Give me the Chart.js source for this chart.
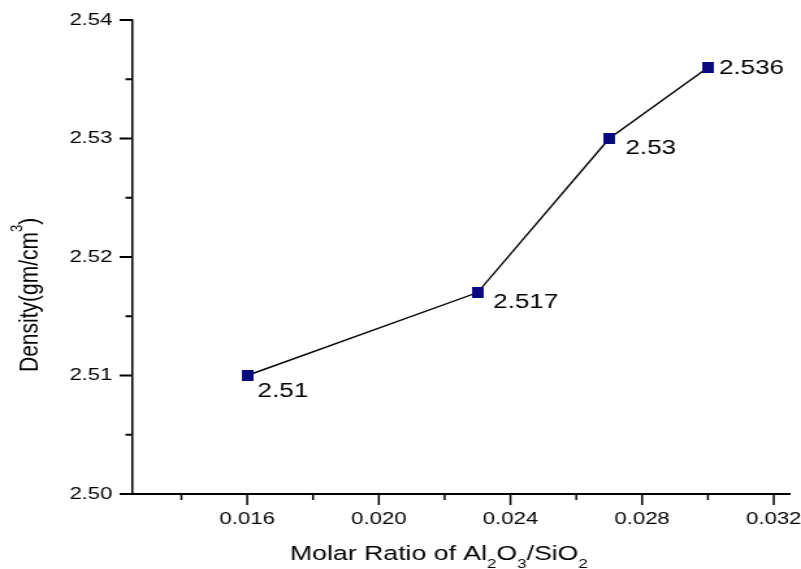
<!DOCTYPE html>
<html>
<head>
<meta charset="utf-8">
<title>Density vs Molar Ratio</title>
<script src="https://cdn.jsdelivr.net/npm/chart.js@4.4.1/dist/chart.umd.min.js"></script>
<style>
  html, body { margin: 0; padding: 0; background: #fff; }
  #densityChart { display: block; }
</style>
</head>
<body>
<!-- the figure is drawn narrow and widened by css, like the exported plot -->
<canvas id="densityChart" width="616" height="569" style="width:801px;height:569px"></canvas>
<script>
// Measured values
const molarRatio = [0.016, 0.023, 0.027, 0.030];
const density = [2.51, 2.517, 2.53, 2.536];

// Axis ticks
const xMajorTicks = [0.016, 0.020, 0.024, 0.028, 0.032];
const xMinorTicks = [0.014, 0.018, 0.022, 0.026, 0.030];
const yMajorTicks = [2.50, 2.51, 2.52, 2.53, 2.54];
const yMinorTicks = [2.505, 2.515, 2.525, 2.535];

const FONT = '"Liberation Sans", Arial, sans-serif';
const NAVY = '#0a0a80';

// where each value label sits relative to its point (left edge, middle)
const labelOffsets = [[8, 16], [12, 9.5], [12.5, 9.5], [8.5, 1]];

// square marker, narrower than tall so it ends up square once widened
const marker = document.createElement('canvas');
marker.width = 9;
marker.height = 11;
const mctx = marker.getContext('2d');
mctx.fillStyle = NAVY;
mctx.fillRect(0, 0, 9, 11);

function drawRich(ctx, parts, x, y) {
  let cx = x;
  parts.forEach(p => {
    ctx.font = p.size + 'px ' + FONT;
    ctx.fillText(p.text, cx, y + (p.shift || 0));
    cx += ctx.measureText(p.text).width;
  });
}

const axisMarks = {
  id: 'axisMarks',
  afterDraw(chart) {
    const { ctx, chartArea } = chart;
    const x = chart.scales.x;
    const y = chart.scales.y;
    ctx.save();
    ctx.strokeStyle = '#000';

    // bottom axis ticks, pointing down
    ctx.lineWidth = 1.5;
    ctx.beginPath();
    xMajorTicks.forEach(v => {
      const px = x.getPixelForValue(v);
      ctx.moveTo(px, chartArea.bottom);
      ctx.lineTo(px, chartArea.bottom + 11);
    });
    xMinorTicks.forEach(v => {
      const px = x.getPixelForValue(v);
      ctx.moveTo(px, chartArea.bottom);
      ctx.lineTo(px, chartArea.bottom + 6);
    });
    ctx.stroke();

    // left axis ticks, pointing left
    ctx.lineWidth = 2;
    ctx.beginPath();
    yMajorTicks.forEach(v => {
      const py = y.getPixelForValue(v);
      ctx.moveTo(chartArea.left, py);
      ctx.lineTo(chartArea.left - 9.5, py);
    });
    yMinorTicks.forEach(v => {
      const py = y.getPixelForValue(v);
      ctx.moveTo(chartArea.left, py);
      ctx.lineTo(chartArea.left - 5, py);
    });
    ctx.stroke();

    // value labels next to the points
    ctx.fillStyle = '#000';
    ctx.font = '20px ' + FONT;
    ctx.textAlign = 'left';
    ctx.textBaseline = 'middle';
    density.forEach((d, i) => {
      const px = x.getPixelForValue(molarRatio[i]);
      const py = y.getPixelForValue(d);
      const off = labelOffsets[i];
      ctx.fillText(String(d), px + off[0], py + off[1]);
    });

    // x axis title with subscripts
    ctx.textBaseline = 'alphabetic';
    const xTitle = [
      { text: 'Molar Ratio of Al', size: 20.5 },
      { text: '2', size: 13, shift: 8 },
      { text: 'O', size: 20.5 },
      { text: '3', size: 13, shift: 8 },
      { text: '/SiO', size: 20.5 },
      { text: '2', size: 13, shift: 8 }
    ];
    drawRich(ctx, xTitle, 223, 560);

    // y axis title with superscript, rotated
    const yTitle = [
      { text: 'Density(gm/cm', size: 21 },
      { text: '3', size: 13, shift: -12 },
      { text: ')', size: 21 }
    ];
    ctx.save();
    ctx.translate(28.5, 372);
    ctx.rotate(-Math.PI / 2);
    drawRich(ctx, yTitle, 0, 0);
    ctx.restore();

    ctx.restore();
  }
};

new Chart(document.getElementById('densityChart'), {
  type: 'line',
  data: {
    datasets: [{
      label: 'Density',
      data: molarRatio.map((m, i) => ({ x: m, y: density[i] })),
      borderColor: '#000',
      borderWidth: 1.4,
      backgroundColor: NAVY,
      pointStyle: marker,
      pointRadius: 5,
      tension: 0,
      fill: false
    }]
  },
  options: {
    responsive: false,
    animation: false,
    events: [],
    layout: {
      autoPadding: false,
      padding: { top: 20, right: 8.3, left: 0, bottom: 0 }
    },
    plugins: {
      legend: { display: false },
      tooltip: { enabled: false }
    },
    scales: {
      x: {
        type: 'linear',
        position: 'bottom',
        min: 0.0125,
        max: 0.0325,
        afterBuildTicks(scale) {
          scale.ticks = xMajorTicks.map(v => ({ value: v }));
        },
        afterFit(scale) {
          scale.height = 75;
          // keep the plot edges fixed, labels may overhang
          scale.paddingLeft = 0;
          scale.paddingRight = 0;
        },
        grid: { display: false, drawTicks: false },
        border: { display: true, color: '#000', width: 2 },
        ticks: {
          padding: 15,
          color: '#000',
          font: { family: FONT, size: 17 },
          maxRotation: 0,
          autoSkip: false,
          callback: v => Number(v).toFixed(3)
        }
      },
      y: {
        type: 'linear',
        min: 2.50,
        max: 2.54,
        afterBuildTicks(scale) {
          scale.ticks = yMajorTicks.map(v => ({ value: v }));
        },
        afterFit(scale) {
          scale.width = 101.5;
          scale.paddingTop = 0;
          scale.paddingBottom = 0;
        },
        grid: { display: false, drawTicks: false },
        border: { display: true, color: '#000', width: 1.5 },
        ticks: {
          padding: 15,
          color: '#000',
          font: { family: FONT, size: 17 },
          autoSkip: false,
          callback: v => Number(v).toFixed(2)
        }
      }
    }
  },
  plugins: [axisMarks]
});
</script>
</body>
</html>
